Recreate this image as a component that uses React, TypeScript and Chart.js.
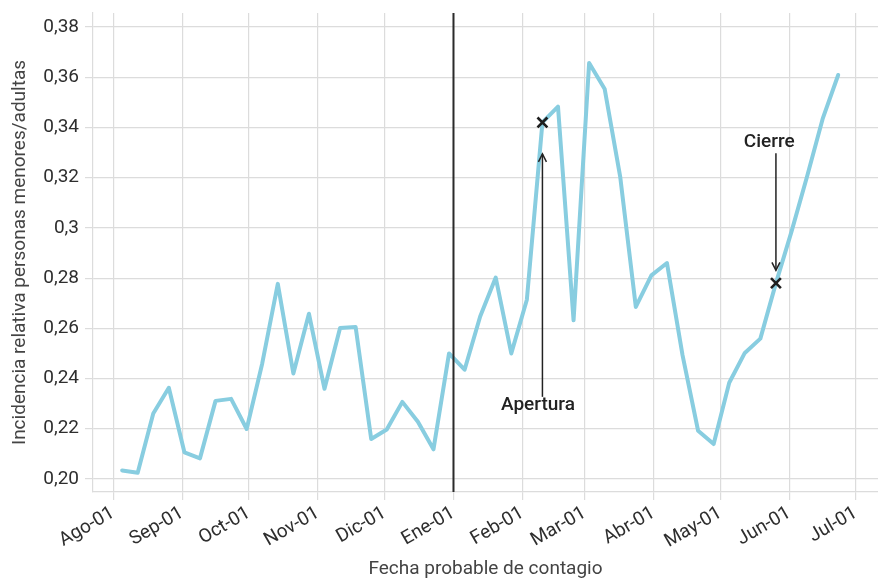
import React, { useEffect, useRef } from "react";
import { Chart, registerables } from "chart.js";

Chart.register(...registerables);

// ---- data ----
const weekDates = [
  "2020-08-05", "2020-08-12", "2020-08-19", "2020-08-26",
  "2020-09-02", "2020-09-09", "2020-09-16", "2020-09-23", "2020-09-30",
  "2020-10-07", "2020-10-14", "2020-10-21", "2020-10-28",
  "2020-11-04", "2020-11-11", "2020-11-18", "2020-11-25",
  "2020-12-02", "2020-12-09", "2020-12-16", "2020-12-23", "2020-12-30",
  "2021-01-06", "2021-01-13", "2021-01-20", "2021-01-27",
  "2021-02-03", "2021-02-10", "2021-02-17", "2021-02-24",
  "2021-03-03", "2021-03-10", "2021-03-17", "2021-03-24", "2021-03-31",
  "2021-04-07", "2021-04-14", "2021-04-21", "2021-04-28",
  "2021-05-05", "2021-05-12", "2021-05-19", "2021-05-26",
  "2021-06-02", "2021-06-09", "2021-06-16", "2021-06-23",
];
const ratioValues = [
  0.2034, 0.2025, 0.2261, 0.2363,
  0.2106, 0.2082, 0.2311, 0.2319, 0.2199,
  0.246, 0.2777, 0.242, 0.2658,
  0.2359, 0.2601, 0.2605, 0.2159,
  0.2197, 0.2307, 0.2228, 0.2118, 0.25,
  0.2435, 0.2647, 0.2802, 0.25,
  0.2714, 0.342, 0.3483, 0.2632,
  0.3657, 0.3553, 0.3202, 0.2685, 0.2811,
  0.286, 0.2493, 0.2192, 0.2139,
  0.2383, 0.2502, 0.2559, 0.278,
  0.2985, 0.3205, 0.3434, 0.3609,
];
const monthTickDates = [
  "2020-08-01", "2020-09-01", "2020-10-01", "2020-11-01", "2020-12-01", "2021-01-01",
  "2021-02-01", "2021-03-01", "2021-04-01", "2021-05-01", "2021-06-01", "2021-07-01",
];
const monthTickLabels = [
  "Ago-01", "Sep-01", "Oct-01", "Nov-01", "Dic-01", "Ene-01",
  "Feb-01", "Mar-01", "Abr-01", "May-01", "Jun-01", "Jul-01",
];
const yTickValues = [0.2, 0.22, 0.24, 0.26, 0.28, 0.3, 0.32, 0.34, 0.36, 0.38];
const yTickLabels = ["0,20", "0,22", "0,24", "0,26", "0,28", "0,3", "0,32", "0,34", "0,36", "0,38"];
const markerDates = ["2021-02-10", "2021-05-26"];
const annotationLabels = ["Apertura", "Cierre"];
const annotationTextDates = ["2021-02-08", "2021-05-23"];
const annotationTextValues = [0.2295, 0.3341];
const annotationArrowFrom = [0.2327, 0.3297];
const annotationArrowTo = [0.3295, 0.2831];
const startLineDate = "2021-01-01";
const xTitle = "Fecha probable de contagio";
const yTitle = "Incidencia relativa personas menores/adultas";

// ---- helpers ----
const ORIGIN = Date.UTC(2020, 7, 1);
function dayOf(s: string): number {
  const [y, m, d] = s.split("-").map(Number);
  return Math.round((Date.UTC(y, m - 1, d) - ORIGIN) / 86400000);
}

const FONT = "Roboto";
const GRID = "#dcdcdc";

const annotationPlugin = {
  id: "annotations",
  afterDatasetsDraw(chart: any) {
    const { ctx, chartArea, scales } = chart;
    const xs = scales.x;
    const ys = scales.y;
    ctx.save();
    const lx = xs.getPixelForValue(dayOf(startLineDate));
    ctx.strokeStyle = "#2b2b2b";
    ctx.lineWidth = 2;
    ctx.beginPath();
    ctx.moveTo(lx, chartArea.top);
    ctx.lineTo(lx, chartArea.bottom);
    ctx.stroke();

    for (let i = 0; i < annotationLabels.length; i++) {
      const ax = xs.getPixelForValue(dayOf(markerDates[i]));
      const y0 = ys.getPixelForValue(annotationArrowFrom[i]);
      const y1 = ys.getPixelForValue(annotationArrowTo[i]);
      const dir = y1 < y0 ? 1 : -1;
      ctx.strokeStyle = "#222";
      ctx.lineWidth = 1.5;
      ctx.beginPath();
      ctx.moveTo(ax, y0);
      ctx.lineTo(ax, y1);
      ctx.stroke();
      ctx.beginPath();
      ctx.moveTo(ax - 4, y1 + dir * 8);
      ctx.lineTo(ax, y1);
      ctx.lineTo(ax + 4, y1 + dir * 8);
      ctx.stroke();

      const tx = xs.getPixelForValue(dayOf(annotationTextDates[i]));
      const ty = ys.getPixelForValue(annotationTextValues[i]);
      ctx.fillStyle = "#222";
      ctx.font = `500 19px ${FONT}`;
      ctx.textAlign = "center";
      ctx.textBaseline = "middle";
      ctx.fillText(annotationLabels[i], tx, ty);
    }
    ctx.restore();
  },
};

export default function App() {
  const ref = useRef<HTMLCanvasElement | null>(null);

  useEffect(() => {
    if (!ref.current) return;
    const lineData = weekDates.map((d, i) => ({ x: dayOf(d), y: ratioValues[i] }));
    const markerData = markerDates.map((d) => {
      const idx = weekDates.indexOf(d);
      return { x: dayOf(d), y: ratioValues[idx] };
    });
    const monthDays = monthTickDates.map(dayOf);

    const chart = new Chart(ref.current, {
      type: "line",
      data: {
        datasets: [
          {
            data: lineData,
            order: 2,
            borderColor: "#88cde0",
            borderWidth: 4,
            pointRadius: 0,
            tension: 0,
            borderJoinStyle: "round",
            borderCapStyle: "round",
            fill: false,
          },
          {
            data: markerData,
            order: 1,
            showLine: false,
            pointStyle: "crossRot",
            pointRadius: 7,
            pointBorderWidth: 2.6,
            pointBorderColor: "#1e1e1e",
            borderColor: "#1e1e1e",
          },
        ],
      },
      options: {
        animation: false,
        responsive: true,
        maintainAspectRatio: false,
        layout: { autoPadding: false, padding: { top: 13, right: 0, left: 0, bottom: 0 } },
        plugins: {
          legend: { display: false },
          tooltip: { enabled: false },
        },
        scales: {
          x: {
            type: "linear",
            min: -9.1,
            max: 343.9,
            afterBuildTicks: (s: any) => {
              s.ticks = monthDays.map((v) => ({ value: v }));
            },
            afterFit: (s: any) => {
              s.height = 91;
              s.paddingLeft = 0;
              s.paddingRight = 0;
            },
            ticks: {
              autoSkip: false,
              minRotation: 30,
              maxRotation: 30,
              padding: 2,
              color: "#2e2e2e",
              font: { family: FONT, size: 19 },
              callback: (_v: any, i: number) => monthTickLabels[i],
            },
            grid: { color: GRID, lineWidth: 1.2, tickLength: 8, drawTicks: true },
            border: { display: true, color: GRID, width: 1.2 },
            title: {
              display: true,
              text: xTitle,
              color: "#444",
              font: { family: FONT, size: 19 },
              padding: { top: 0, bottom: 2 },
            },
          },
          y: {
            type: "linear",
            min: 0.1948,
            max: 0.3856,
            afterBuildTicks: (s: any) => {
              s.ticks = yTickValues.map((v) => ({ value: v }));
            },
            afterFit: (s: any) => {
              s.width = 93;
              s.paddingTop = 0;
              s.paddingBottom = 0;
            },
            ticks: {
              autoSkip: false,
              padding: 6,
              color: "#2e2e2e",
              font: { family: FONT, size: 19 },
              callback: (_v: any, i: number) => yTickLabels[i],
            },
            grid: { color: GRID, lineWidth: 1.2, tickLength: 8 },
            border: { display: true, color: GRID, width: 1.2 },
            title: {
              display: true,
              text: yTitle,
              color: "#444",
              font: { family: FONT, size: 19 },
              padding: { top: 9, bottom: 0 },
            },
          },
        },
      },
      plugins: [annotationPlugin],
    } as any);

    return () => chart.destroy();
  }, []);

  return (
    <div style={{ position: "fixed", left: 0, top: 0, width: 878, height: 583, background: "#fff" }}>
      <canvas ref={ref} />
    </div>
  );
}
